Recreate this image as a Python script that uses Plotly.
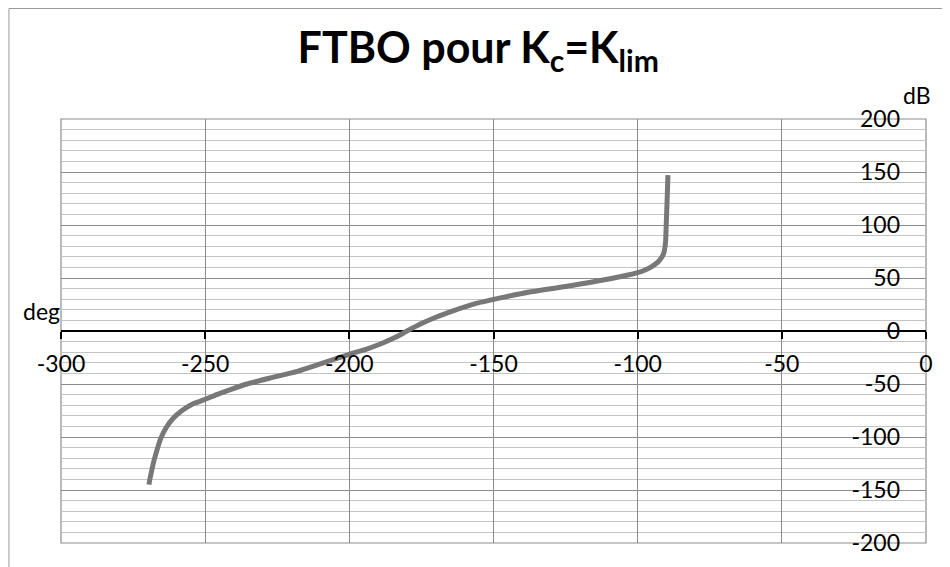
import plotly.graph_objects as go

# Nichols curve (phase in degrees, gain in dB)
phase_deg = [-269.5, -269.2, -268.8, -268.0, -267.0, -265.5, -263.5, -261.0, -258.0, -254.5,
             -250.5, -246.0, -241.0, -235.5, -227.0, -218.0, -209.0, -200.0, -194.0, -189.0,
             -184.0, -180.0, -175.0, -170.0, -164.0, -156.0, -148.0, -137.0, -125.0, -110.0,
             -100.0, -97.0, -95.0, -93.0, -91.8, -91.0, -90.6, -90.3, -90.1, -89.9, -89.7,
             -89.5]
gain_db = [-145, -140, -135, -125, -115, -102, -91, -82, -75, -69,
           -65, -60, -55, -50, -44, -38, -30, -22, -17, -12,
           -6, 0, 7, 13, 19, 26, 31, 37, 42, 49,
           55, 58, 61, 65, 69, 73, 78, 85, 100, 115, 130,
           147]

x_ticks = [-300, -250, -200, -150, -100, -50, 0]
y_ticks = [-200, -150, -100, -50, 0, 50, 100, 150, 200]

FONT = "Lato"

fig = go.Figure()
fig.add_trace(go.Scatter(x=phase_deg, y=gain_db, mode="lines",
                         line=dict(color="#787878", width=5, shape="spline", smoothing=0.6),
                         showlegend=False, hoverinfo="skip"))

fig.update_layout(
    width=950, height=567,
    paper_bgcolor="white", plot_bgcolor="white",
    margin=dict(l=53, r=32, t=111, b=32),
    font=dict(family=FONT, size=23, color="black"),
    title=dict(text="<b>FTBO pour K<sub>c</sub>=K<sub>lim</sub></b>",
               x=0.495, y=0.93, xanchor="center", yanchor="middle",
               font=dict(family=FONT, size=43, color="black")),
    xaxis=dict(range=[-300, 0], tickvals=x_ticks, ticktext=[str(v) for v in x_ticks],
               anchor="free", position=0.5, showline=False,
               ticks="outside", ticklen=7, tickcolor="black", tickwidth=1.5,
               ticklabelstandoff=5,
               showgrid=True, gridcolor="#8c8c8c", gridwidth=1.2, zeroline=False),
    yaxis=dict(range=[-200, 200], tickvals=y_ticks, ticktext=[str(v) for v in y_ticks],
               anchor="free", position=1.0, side="left", showline=False,
               ticks="", ticklabelstandoff=26,
               showgrid=True, gridcolor="#8c8c8c", gridwidth=1.2,
               minor=dict(dtick=10, showgrid=True, gridcolor="#c4c4c4", gridwidth=1),
               zeroline=True, zerolinecolor="black", zerolinewidth=2),
    shapes=[
        dict(type="rect", xref="paper", yref="paper", x0=0, y0=0, x1=1, y1=1,
             line=dict(color="#8c8c8c", width=1.2), layer="below"),
        dict(type="rect", xref="paper", yref="paper", x0=-0.0602, y0=-0.2,
             x1=1.1, y1=1.2606, line=dict(color="#9a9a9a", width=1)),
    ],
    annotations=[
        dict(text="deg", xref="paper", yref="paper", x=-0.022, y=0.547,
             showarrow=False, xanchor="center", yanchor="middle",
             font=dict(family=FONT, size=23, color="black")),
        dict(text="dB", xref="paper", yref="paper", x=0.9896, y=1.057,
             showarrow=False, xanchor="center", yanchor="middle",
             font=dict(family=FONT, size=23, color="black")),
    ],
)

fig.write_html("out.html")
